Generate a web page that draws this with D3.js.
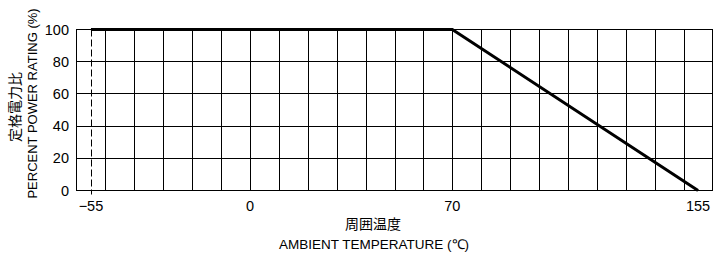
<!DOCTYPE html>
<html><head><meta charset="utf-8">
<script src="https://cdn.jsdelivr.net/npm/d3@7"></script>
<style>body{margin:0;background:#fff}svg{display:block}text{font-family:"Liberation Sans",Arial,sans-serif;fill:#000}</style>
</head><body>
<svg id="c" width="727" height="257"></svg>
<script>
const curveTemp = [-55, 70, 155];
const curvePower = [100, 100, 0];
const xTickLabels = [-55, 0, 70, 155];
const yTickLabels = [0, 20, 40, 60, 80, 100];
const xGrid = d3.range(-50, 160, 10);
const yGrid = [20, 40, 60, 80];
const xDomain = [-60, 160];
const yDomain = [0, 100];
const xTitleJa = "周囲温度";
const xTitleEn = "AMBIENT TEMPERATURE (℃)";
const yTitleJa = "定格電力比";
const yTitleEn = "PERCENT POWER RATING (%)";

const svg = d3.select("#c");
const x = d3.scaleLinear().domain(xDomain).range([76.5, 712.5]);
const y = d3.scaleLinear().domain(yDomain).range([190.5, 29.5]);

// grid
svg.append("g").selectAll("line").data(xGrid).join("line")
  .attr("x1", d => Math.round(x(d)) + 0.5).attr("x2", d => Math.round(x(d)) + 0.5)
  .attr("y1", y(100)).attr("y2", y(0)).attr("stroke", "#000").attr("stroke-width", 1);
svg.append("g").selectAll("line").data(yGrid).join("line")
  .attr("y1", d => Math.round(y(d) - 0.5) + 0.5).attr("y2", d => Math.round(y(d) - 0.5) + 0.5)
  .attr("x1", x(-60)).attr("x2", x(160)).attr("stroke", "#000").attr("stroke-width", 1);
// frame
svg.append("rect").attr("x", x(-60)).attr("y", y(100)).attr("width", x(160) - x(-60)).attr("height", y(0) - y(100))
  .attr("fill", "none").attr("stroke", "#000").attr("stroke-width", 1);
// dashed at -55
svg.append("line").attr("x1", Math.round(x(-55)) + 0.5).attr("x2", Math.round(x(-55)) + 0.5)
  .attr("y1", y(100)).attr("y2", y(0) + 4).attr("stroke", "#000").attr("stroke-dasharray", "7,3");

// curve
const line = d3.line().x((d, i) => x(curveTemp[i])).y(d => y(d));
svg.append("path").attr("d", line(curvePower)).attr("fill", "none").attr("stroke", "#000").attr("stroke-width", 3).attr("stroke-linejoin", "miter");

// ticks labels
svg.append("g").selectAll("text").data(yTickLabels).join("text")
  .attr("x", 69).attr("y", d => y(d) + 5).attr("text-anchor", "end").attr("font-size", 14.5).text(d => d);
svg.append("g").selectAll("text").data(xTickLabels).join("text")
  .attr("x", d => x(d)).attr("y", 211).attr("text-anchor", "middle").attr("font-size", 14.5)
  .text(d => d < 0 ? "\u2212" + Math.abs(d) : d);

// titles
svg.append("text").attr("x", 373).attr("y", 229).attr("text-anchor", "middle").attr("font-size", 14)
  .style("font-family", "'Noto Sans CJK JP',sans-serif").text(xTitleJa);
svg.append("text").attr("x", 374).attr("y", 249).attr("text-anchor", "middle").attr("font-size", 13.5).text(xTitleEn);
svg.append("text").attr("transform", "translate(20,107) rotate(-90)").attr("text-anchor", "middle").attr("font-size", 14)
  .style("font-family", "'Noto Sans CJK JP',sans-serif").text(yTitleJa);
svg.append("text").attr("transform", "translate(37,103.5) rotate(-90)").attr("text-anchor", "middle").attr("font-size", 13).text(yTitleEn);
</script>
</body></html>
